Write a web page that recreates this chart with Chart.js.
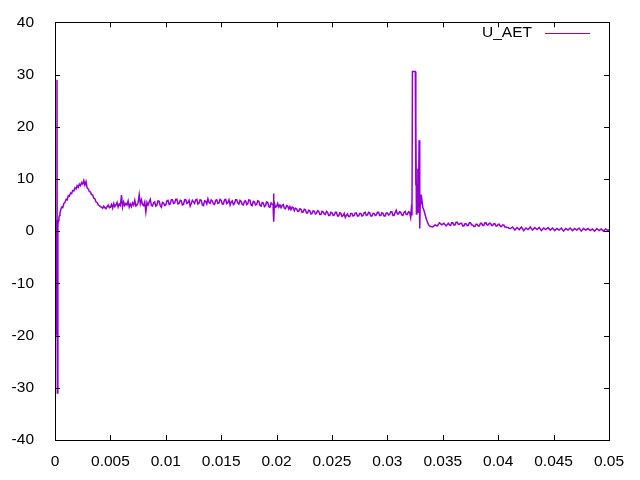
<!DOCTYPE html>
<html>
<head>
<meta charset="utf-8">
<script src="https://cdn.jsdelivr.net/npm/chart.js@4"></script>
<style>
html,body{margin:0;padding:0;background:#fff;}
#wrap{width:640px;height:480px;}
</style>
</head>
<body>
<div id="wrap"><canvas id="c" width="640" height="480"></canvas></div>
<script>
const SERIES_LABEL = 'U_AET';
const X_TICKS = [0,0.005,0.01,0.015,0.02,0.025,0.03,0.035,0.04,0.045,0.05];
const X_TICK_LABELS = ['0','0.005','0.01','0.015','0.02','0.025','0.03','0.035','0.04','0.045','0.05'];
const Y_TICKS = [-40,-30,-20,-10,0,10,20,30,40];
const Y_TICK_LABELS = ['-40','-30','-20','-10','0','10','20','30','40'];

const TIME = [
0,0.00008,0.00012,0.00018,0.00021,0.00026,0.0003,0.00035,0.0004,0.00045,
0.0005,0.0006,0.0007,0.0008,0.0009,0.0010,0.0011,0.0012,0.0013,0.0014,
0.0015,0.0016,0.0017,0.0018,0.0019,0.0020,0.0021,0.0022,0.0023,0.0024,
0.0025,0.0026,0.0027,0.0028,0.0029,0.0030,0.0031,0.0032,0.0033,0.0034,
0.0035,0.0036,0.0037,0.0038,0.0039,
0.0040,0.0041,0.0042,0.0043,0.0044,0.0045,0.0046,0.0047,0.0048,0.0049,
0.0050,0.0051,0.0052,0.0053,0.0054,0.0055,0.0056,0.0057,0.0058,0.0059,
0.0060,0.0061,0.0062,0.0063,0.0064,0.0065,0.0066,0.0067,0.0068,0.0069,
0.0070,0.0071,0.0072,0.0073,0.0074,0.0075,0.0076,0.0077,0.0078,0.0079,
0.0080,0.0081,0.0082,0.0083,0.0084,0.0085,0.0086,0.0087,0.0088,0.0089,
0.0090,0.0091,0.0092,0.0093,0.0094,0.0095,0.0096,0.0097,0.0098,0.0099,
0.0100,0.0101,0.0102,0.0103,0.0104,0.0105,0.0106,0.0107,0.0108,0.0109,
0.0110,0.0111,0.0112,0.0113,0.0114,0.0115,0.0116,0.0117,0.0118,0.0119,
0.0120,0.0121,0.0122,0.0123,0.0124,0.0125,0.0126,0.0127,0.0128,0.0129,
0.0130,0.0131,0.0132,0.0133,0.0134,0.0135,0.0136,0.0137,0.0138,0.0139,
0.0140,0.0141,0.0142,0.0143,0.0144,0.0145,0.0146,0.0147,0.0148,0.0149,
0.0150,0.0151,0.0152,0.0153,0.0154,0.0155,0.0156,0.0157,0.0158,0.0159,
0.0160,0.0161,0.0162,0.0163,0.0164,0.0165,0.0166,0.0167,0.0168,0.0169,
0.0170,0.0171,0.0172,0.0173,0.0174,0.0175,0.0176,0.0177,0.0178,0.0179,
0.0180,0.0181,0.0182,0.0183,0.0184,0.0185,0.0186,0.0187,0.0188,0.0189,
0.0190,0.0191,0.0192,0.0193,0.0194,0.0195,0.0196,0.01968,0.01972,0.01976,0.0198,0.0199,
0.0200,0.0201,0.0202,0.0203,0.0204,0.0205,0.0206,0.0207,0.0208,0.0209,
0.0210,0.0211,0.0212,0.0213,0.0214,0.0215,0.0216,0.0217,0.0218,0.0219,
0.0220,0.0221,0.0222,0.0223,0.0224,0.0225,0.0226,0.0227,0.0228,0.0229,
0.0230,0.0231,0.0232,0.0233,0.0234,0.0235,0.0236,0.0237,0.0238,0.0239,
0.0240,0.0241,0.0242,0.0243,0.0244,0.0245,0.0246,0.0247,0.0248,0.0249,
0.0250,0.0251,0.0252,0.0253,0.0254,0.0255,0.0256,0.0257,0.0258,0.0259,
0.0260,0.0261,0.0262,0.0263,0.0264,0.0265,0.0266,0.0267,0.0268,0.0269,
0.0270,0.0271,0.0272,0.0273,0.0274,0.0275,0.0276,0.0277,0.0278,0.0279,
0.0280,0.0281,0.0282,0.0283,0.0284,0.0285,0.0286,0.0287,0.0288,0.0289,
0.0290,0.0291,0.0292,0.0293,0.0294,0.0295,0.0296,0.0297,0.0298,0.0299,
0.0300,0.0301,0.0302,0.0303,0.0304,0.0305,0.0306,0.0307,0.0308,0.0309,
0.0310,0.0311,0.0312,0.0313,0.0314,0.0315,0.0316,0.0317,0.0318,0.0319,
0.0320,0.0321,0.03215,0.03222,0.03226,0.03252,0.03255,0.03258,0.03262,0.03266,0.03270,0.03275,0.03280,0.03286,0.03290,0.03294,0.03298,0.03303,
0.0331,0.0332,0.0333,0.0334,0.0335,0.0336,0.0337,0.0338,0.0339,0.0341,0.0343,0.0345,0.0347,0.0349,0.0351,0.0353,
0.0355,0.0356,0.0357,0.0358,0.0359,0.0360,0.0361,0.0362,0.0363,0.0364,
0.0365,0.0366,0.0367,0.0368,0.0369,0.0370,0.0371,0.0372,0.0373,0.0374,
0.0375,0.0376,0.0377,0.0378,0.0379,0.0380,0.0381,0.0382,0.0383,0.0384,
0.0385,0.0386,0.0387,0.0388,0.0389,0.0390,0.0391,0.0392,0.0393,0.0394,
0.0395,0.0396,0.0397,0.0398,0.0399,0.0400,0.0401,0.0402,0.0403,0.0404,
0.0405,0.0406,0.0407,0.0408,0.0409,0.0410,
0.0411,0.0413,0.0415,0.0417,0.0419,0.0421,0.0423,0.0425,0.0427,0.0429,0.0431,0.0433,0.0435,0.0437,0.0439,0.0441,0.0443,0.0445,0.0447,0.0449,
0.0451,0.0453,0.0455,0.0457,0.0459,0.0461,0.0463,0.0465,0.0467,0.0469,0.0471,0.0473,0.0475,0.0477,0.0479,0.0481,0.0483,0.0485,0.0487,0.0489,
0.0491,0.0493,0.0495,0.0497,0.0499,0.0500
];
const U_AET = [
0,-20,2,29,-31,1,2,2.5,3,3.5,
4.0,4.6,4.5,5.3,5.5,6.1,6.0,6.8,6.7,7.3,
7.2,7.8,7.7,8.3,8.1,8.7,8.4,9.0,8.7,9.3,
9.0,9.7,8.8,9.5,8.3,8.1,7.6,7.5,7.0,6.9,
6.3,6.2,5.6,5.5,5.0,
4.9,4.7,4.6,4.4,4.8,4.5,4.3,4.7,5.0,4.5,
4.6,5.1,4.4,5.3,4.7,5.0,5.5,4.6,5.2,4.9,
6.9,4.6,5.6,4.9,5.3,5.0,5.8,4.6,5.2,4.7,
5.4,5.0,5.9,4.8,5.0,5.5,7.0,5.2,6.0,5.1,
4.9,5.6,3.7,5.5,5.0,5.6,6.1,4.9,4.8,5.4,
5.6,4.8,5.0,5.8,5.7,4.9,4.6,5.5,5.4,4.9,
5.0,5.8,5.9,5.1,5.2,6.0,6.0,5.3,5.4,6.1,
6.1,5.2,5.3,5.9,5.8,5.0,5.1,6.0,6.0,5.3,
5.5,5.9,4.8,5.3,5.9,5.6,5.3,6.0,6.1,5.2,
5.4,6.0,5.9,5.0,4.9,5.8,5.7,5.2,6.2,5.5,
5.3,6.0,5.8,5.2,5.1,5.9,6.0,5.3,5.4,6.1,
5.9,5.2,5.2,6.0,6.1,5.3,5.5,6.0,5.0,5.6,
5.8,5.1,5.3,6.0,6.0,5.4,5.2,5.9,5.7,5.1,
5.0,5.7,5.8,5.1,5.3,6.0,5.9,5.0,4.9,5.7,
5.6,5.0,5.1,5.8,5.7,4.9,4.8,5.5,5.4,4.7,
4.9,5.6,5.5,4.7,4.6,5.4,5.2,5.0,7.2,1.8,5.4,4.6,
4.7,5.3,4.6,5.0,4.5,4.9,5.1,4.4,4.3,4.9,
4.8,4.2,4.7,4.1,4.6,4.5,3.9,4.4,4.3,3.8,
3.8,4.3,4.2,3.6,3.7,4.2,4.1,3.5,3.5,4.0,
3.9,3.3,3.4,3.9,3.8,3.3,3.4,3.9,3.8,3.2,
3.2,3.8,3.7,3.3,3.2,3.8,3.6,3.0,3.0,3.6,
3.5,3.0,3.1,3.6,3.6,2.9,2.9,3.5,3.4,2.8,
3.0,3.4,2.6,3.0,3.3,2.8,2.8,3.4,3.4,2.9,
3.0,3.5,3.5,2.9,2.9,3.4,3.4,2.9,3.0,3.5,
3.6,3.0,3.1,3.6,3.5,2.9,2.9,3.4,3.4,3.0,
3.1,3.6,3.6,3.0,3.0,3.5,3.4,2.9,2.9,3.5,
3.5,3.1,3.2,3.7,3.7,3.0,3.0,3.6,4.0,3.3,
3.3,3.7,3.6,3.1,3.0,3.6,3.8,3.2,3.2,3.7,
3.6,2.6,4.0,3.0,30.6,30.6,8.8,21.4,3.3,9,5,12,3.5,17.4,10,0.5,7,5.5,
6.2,4.5,4.0,3.2,2.4,1.8,1.3,1.0,0.9,0.8,1.2,1.0,1.6,1.2,1.5,1.0,
1.5,1.2,1.1,1.6,1.6,1.2,1.2,1.7,1.7,1.3,
1.3,1.5,1.5,1.0,1.0,1.4,1.4,1.1,1.1,1.6,
1.6,1.2,1.2,0.9,0.9,1.3,1.3,1.0,1.0,1.5,
1.5,1.1,1.1,1.6,1.6,1.2,1.2,1.5,1.5,1.1,
1.1,1.4,1.4,1.0,1.0,1.3,1.3,0.9,0.9,1.2,
1.2,0.8,0.8,0.7,0.7,0.5,
0.5,0.8,0.2,0.7,0.3,0.8,0.1,0.6,0.3,0.8,0.2,0.7,0.3,0.7,0.1,0.6,0.3,0.7,0.2,0.6,
0.1,0.5,0.2,0.6,0.0,0.5,0.2,0.6,0.1,0.5,0.2,0.6,0.0,0.5,0.2,0.5,0.1,0.4,0.0,0.5,
0.1,0.4,0.0,0.4,0.1,0.3
];

const LINE_COLOR = '#9400d3';
const FONT = {family: '"Liberation Sans", Arial, sans-serif', size: 15.5};
const TICK_LEN = 5;

const points = TIME.map((t, i) => ({x: t, y: U_AET[i]}));

const frame = {
  id: 'gnuframe',
  afterDraw(chart) {
    const ctx = chart.ctx;
    const a = chart.chartArea;
    const xs = chart.scales.x, ys = chart.scales.y;
    ctx.save();
    ctx.strokeStyle = '#000';
    ctx.lineWidth = 1;
    ctx.beginPath();
    X_TICKS.forEach(v => {
      const px = Math.round(xs.getPixelForValue(v)) + 0.5;
      ctx.moveTo(px, a.bottom); ctx.lineTo(px, a.bottom - TICK_LEN);
      ctx.moveTo(px, a.top); ctx.lineTo(px, a.top + TICK_LEN);
    });
    Y_TICKS.forEach(v => {
      const py = Math.round(ys.getPixelForValue(v)) + 0.5;
      ctx.moveTo(a.left, py); ctx.lineTo(a.left + TICK_LEN, py);
      ctx.moveTo(a.right, py); ctx.lineTo(a.right - TICK_LEN, py);
    });
    ctx.stroke();
    ctx.strokeRect(Math.round(a.left) + 0.5, Math.round(a.top) + 0.5,
                   Math.round(a.right - a.left), Math.round(a.bottom - a.top));
    // key
    ctx.fillStyle = '#000';
    ctx.font = FONT.size + 'px ' + FONT.family;
    ctx.textAlign = 'right';
    ctx.textBaseline = 'middle';
    ctx.fillText(chart.data.datasets[0].label, 532, 33);
    ctx.strokeStyle = LINE_COLOR;
    ctx.beginPath();
    ctx.moveTo(545, 33.5); ctx.lineTo(590, 33.5);
    ctx.stroke();
    ctx.restore();
  }
};

new Chart(document.getElementById('c'), {
  type: 'line',
  data: {
    datasets: [{
      label: SERIES_LABEL,
      data: points,
      borderColor: LINE_COLOR,
      borderWidth: 1.5,
      pointRadius: 0,
      tension: 0,
      fill: false
    }]
  },
  options: {
    responsive: false,
    animation: false,
    parsing: false,
    normalized: true,
    layout: {padding: {left: 0, right: 31, top: 19, bottom: 0}},
    plugins: {legend: {display: false}, tooltip: {enabled: false}},
    scales: {
      x: {
        type: 'linear',
        min: 0, max: 0.05,
        afterBuildTicks: s => { s.ticks = X_TICKS.map(v => ({value: v})); },
        afterFit: s => { s.height = 40; },
        grid: {display: false},
        border: {display: false},
        ticks: {
          color: '#000', font: FONT, padding: 4, maxRotation: 0, autoSkip: false,
          callback: (v, i) => X_TICK_LABELS[i]
        }
      },
      y: {
        type: 'linear',
        min: -40, max: 40,
        afterBuildTicks: s => { s.ticks = Y_TICKS.map(v => ({value: v})); },
        afterFit: s => { s.width = 55; },
        grid: {display: false},
        border: {display: false},
        ticks: {
          color: '#000', font: FONT, padding: 13, autoSkip: false,
          callback: (v, i) => Y_TICK_LABELS[i]
        }
      }
    }
  },
  plugins: [frame]
});
</script>
</body>
</html>
